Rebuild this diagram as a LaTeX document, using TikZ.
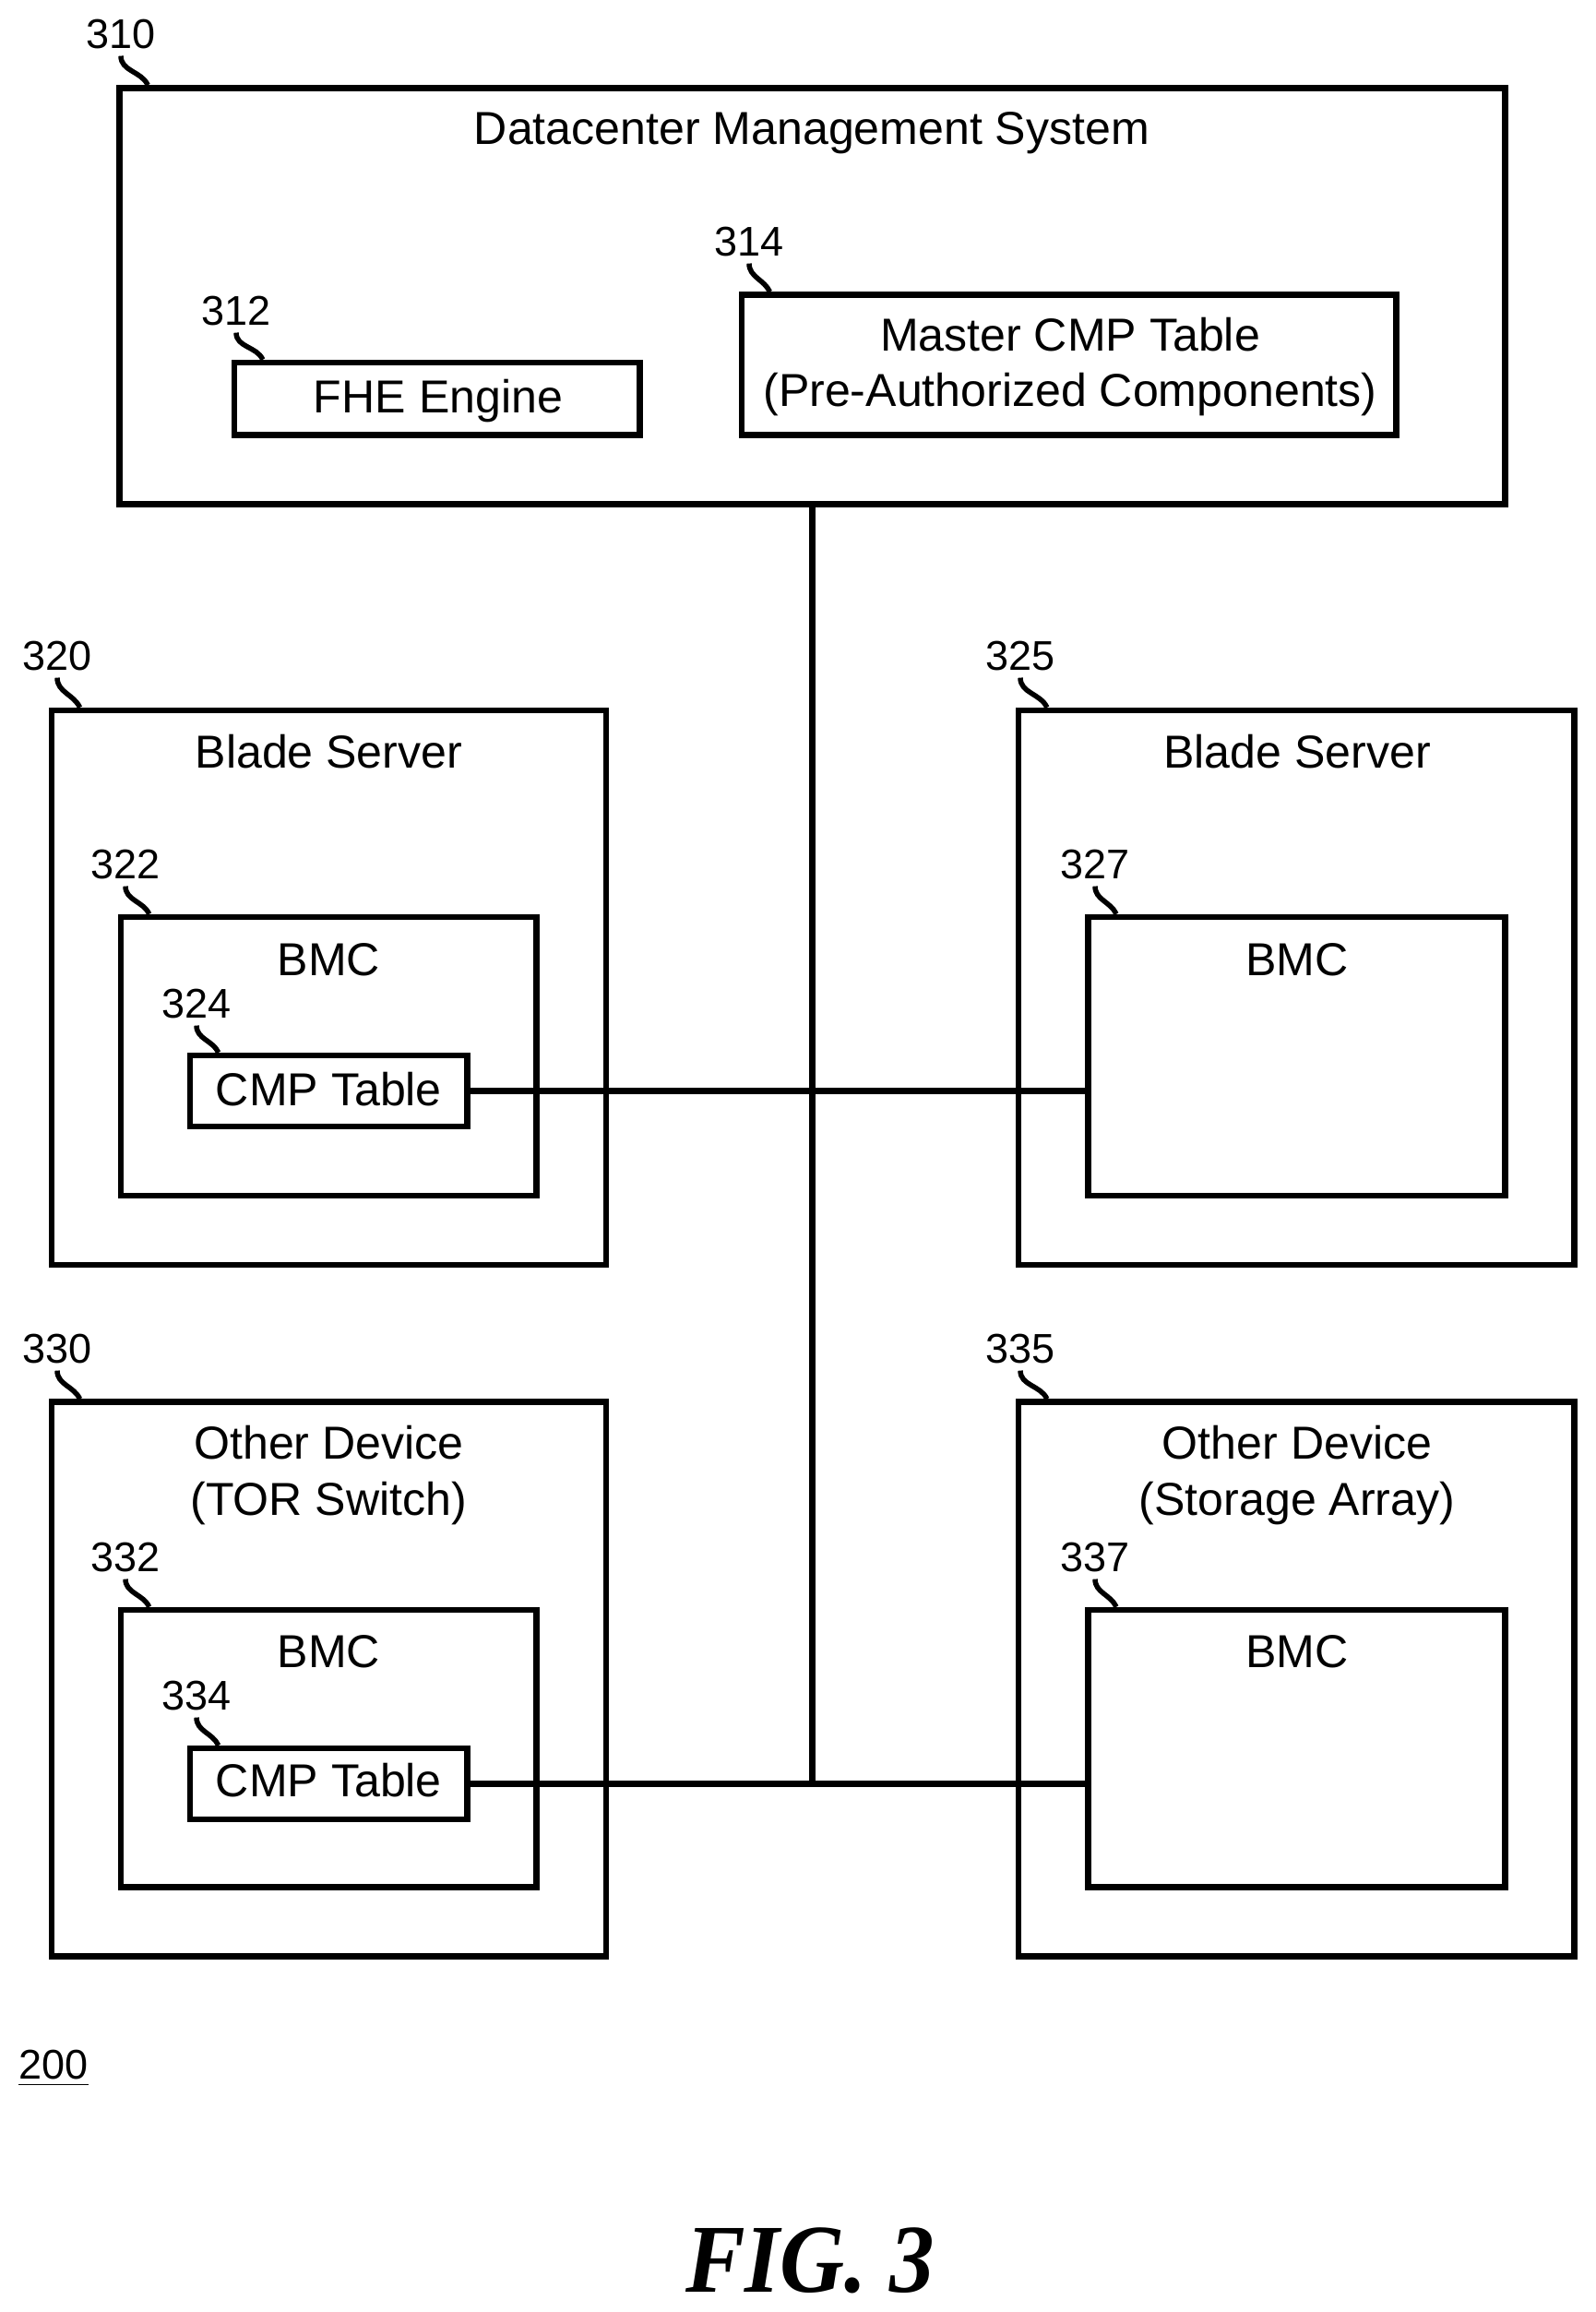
\documentclass[tikz,border=0pt]{standalone}
\usepackage{fontspec}
\setmainfont{Liberation Sans}
\newfontfamily\figfont{Liberation Serif}
\tikzset{
	blk/.style={shape=rectangle, draw, line width=0.065cm},
	txt/.style={anchor=base, inner sep=0pt, font=\fontsize{14.25}{16}\selectfont},
	num/.style={anchor=center, inner sep=0pt, font=\fontsize{12.8}{15}\selectfont},
	lead/.style={line width=0.055cm},
	wire/.style={line width=0.065cm},
}

\begin{document}
\begin{tikzpicture}
	\useasboundingbox (0, 0) rectangle (17.30, 25.06);
	% Blocks:

	\node[blk, minimum width=15.02cm, minimum height=4.51cm](N310) at (8.805, 21.85){};
	\node[blk, minimum width=4.394cm, minimum height=0.783cm](N312) at (4.738, 20.738){};
	\node[blk, minimum width=7.095cm, minimum height=1.518cm](N314) at (11.585, 21.105){};
	\node[blk, minimum width=6.01cm, minimum height=6.01cm](N320) at (3.563, 14.354){};
	\node[blk, minimum width=4.507cm, minimum height=3.02cm](N322) at (3.563, 13.61){};
	\node[blk, minimum width=3.005cm, minimum height=0.767cm](N324) at (3.563, 13.235){};
	\node[blk, minimum width=6.025cm, minimum height=6.01cm](N325) at (14.054, 14.354){};
	\node[blk, minimum width=4.522cm, minimum height=3.02cm](N327) at (14.054, 13.61){};
	\node[blk, minimum width=6.01cm, minimum height=6.01cm](N330) at (3.563, 6.859){};
	\node[blk, minimum width=4.507cm, minimum height=3.004cm](N332) at (3.563, 6.108){};
	\node[blk, minimum width=3.005cm, minimum height=0.767cm](N334) at (3.563, 5.725){};
	\node[blk, minimum width=6.025cm, minimum height=6.01cm](N335) at (14.054, 6.859){};
	\node[blk, minimum width=4.522cm, minimum height=3.004cm](N337) at (14.054, 6.108){};

	% Texts:

	\node[txt](T310) at (8.80, 23.49){Datacenter Management System};
	\node[txt](T312) at (4.75, 20.586){FHE Engine};
	\node[txt](T314a) at (11.60, 21.257){Master CMP Table};
	\node[txt](T314b) at (11.60, 20.65){(Pre-Authorized Components)};
	\node[txt](T320) at (3.564, 16.734){Blade Server};
	\node[txt](T322) at (3.564, 14.481){BMC};
	\node[txt](T324) at (3.564, 13.075){CMP Table};
	\node[txt](T325) at (14.06, 16.734){Blade Server};
	\node[txt](T327) at (14.06, 14.481){BMC};
	\node[txt](T330a) at (3.564, 9.24){Other Device};
	\node[txt](T330b) at (3.564, 8.633){(TOR Switch)};
	\node[txt](T332) at (3.564, 6.987){BMC};
	\node[txt](T334) at (3.564, 5.58){CMP Table};
	\node[txt](T335a) at (14.06, 9.24){Other Device};
	\node[txt](T335b) at (14.06, 8.633){(Storage Array)};
	\node[txt](T337) at (14.06, 6.987){BMC};

	% Reference numerals:

	\node[num](L310) at (1.31, 24.69){310};
	\node[num](L312) at (2.56, 21.69){312};
	\node[num](L314) at (8.12, 22.44){314};
	\node[num](L320) at (0.62, 17.95){320};
	\node[num](L322) at (1.36, 15.69){322};
	\node[num](L324) at (2.13, 14.18){324};
	\node[num](L325) at (11.06, 17.95){325};
	\node[num](L327) at (11.87, 15.69){327};
	\node[num](L330) at (0.62, 10.44){330};
	\node[num](L332) at (1.36, 8.18){332};
	\node[num](L334) at (2.13, 6.68){334};
	\node[num](L335) at (11.06, 10.44){335};
	\node[num](L337) at (11.87, 8.18){337};
	\node[num](L200) at (0.58, 2.64){\underline{200}};
	\node[anchor=base, inner sep=0pt, xscale=0.92, font=\figfont\bfseries\itshape\fontsize{30}{30}\selectfont](FIG) at (8.78, 0.21){FIG. 3};

	% Lead lines:

	\draw[lead] (L310.south) ++(0, -0.07) to[out=-90, in=115] ([xshift=0.34cm]N310.north west);
	\draw[lead] (L312.south) ++(0, -0.07) to[out=-90, in=115] ([xshift=0.34cm]N312.north west);
	\draw[lead] (L314.south) ++(0, -0.07) to[out=-90, in=115] ([xshift=0.34cm]N314.north west);
	\draw[lead] (L320.south) ++(0, -0.07) to[out=-90, in=115] ([xshift=0.34cm]N320.north west);
	\draw[lead] (L322.south) ++(0, -0.07) to[out=-90, in=115] ([xshift=0.34cm]N322.north west);
	\draw[lead] (L324.south) ++(0, -0.07) to[out=-90, in=115] ([xshift=0.34cm]N324.north west);
	\draw[lead] (L325.south) ++(0, -0.07) to[out=-90, in=115] ([xshift=0.34cm]N325.north west);
	\draw[lead] (L327.south) ++(0, -0.07) to[out=-90, in=115] ([xshift=0.34cm]N327.north west);
	\draw[lead] (L330.south) ++(0, -0.07) to[out=-90, in=115] ([xshift=0.34cm]N330.north west);
	\draw[lead] (L332.south) ++(0, -0.07) to[out=-90, in=115] ([xshift=0.34cm]N332.north west);
	\draw[lead] (L334.south) ++(0, -0.07) to[out=-90, in=115] ([xshift=0.34cm]N334.north west);
	\draw[lead] (L335.south) ++(0, -0.07) to[out=-90, in=115] ([xshift=0.34cm]N335.north west);
	\draw[lead] (L337.south) ++(0, -0.07) to[out=-90, in=115] ([xshift=0.34cm]N337.north west);

	% Wires:

	\draw[wire] (N324.east) -- (N324.east -| N327.west);
	\draw[wire] (N334.east) -- (N334.east -| N337.west);
	\draw[wire] (N310.south) -- (N310.south |- N334.east);
\end{tikzpicture}
\end{document}
